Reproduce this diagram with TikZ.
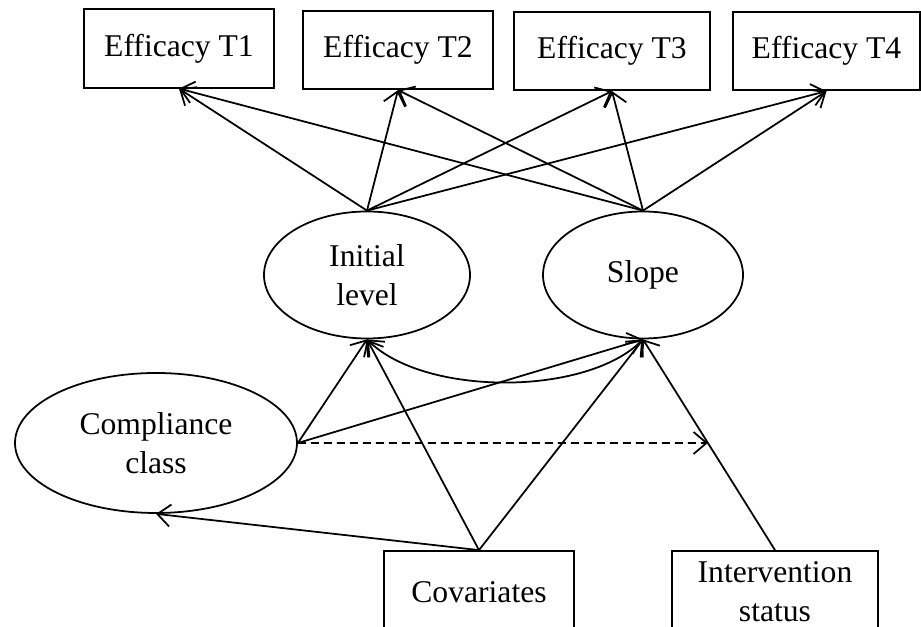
\documentclass[tikz,border=0pt]{standalone}
\usepackage{fontspec}
\setmainfont{Liberation Serif}
\usetikzlibrary{arrows.meta,shapes.geometric,intersections}

\begin{document}
\begin{tikzpicture}[
    font=\fontsize{18}{22}\selectfont,
    line width=1pt,
    >={Straight Barb[length=2.6mm,width=4.4mm]},
    obs/.style={draw, rectangle, minimum width=3.8cm, minimum height=1.57cm, inner sep=2pt},
    latent/.style={draw, ellipse, align=center, inner sep=0pt}
]
    \useasboundingbox (0,0) rectangle (18.42,12.54);

    % Observed measures
    \node[obs] (e1) at (3.58, 11.57) {Efficacy T1};
    \node[obs] (e2) at (7.96, 11.54) {Efficacy T2};
    \node[obs, minimum width=3.92cm] (e3) at (12.24, 11.52) {Efficacy T3};
    \node[obs, minimum width=3.74cm] (e4) at (16.53, 11.52) {Efficacy T4};

    % Growth factors
    \node[latent, minimum width=4.12cm, minimum height=2.54cm] (il) at (7.34, 7.04) {Initial\\level};
    \node[latent, minimum width=4.0cm, minimum height=2.54cm] (sl) at (12.86, 7.04) {Slope};

    % Class and predictors
    \node[latent, minimum width=5.64cm, minimum height=2.8cm] (cc) at (3.12, 3.68) {Compliance\\class};
    \node[obs, minimum height=1.64cm] (cov) at (9.58, 0.70) {Covariates};
    \node[obs, minimum width=4.12cm, minimum height=1.64cm, align=center] (iv) at (15.5, 0.70) {Intervention\\status};

    % Loadings
    \foreach \e in {e1,e2,e3,e4} {
        \draw[->] (il.north) -- (\e.south);
        \draw[->] (sl.north) -- (\e.south);
    }

    % Covariance of growth factors
    \draw[<->] (il.south) to[out=-45, in=-135, looseness=0.75] (sl.south);

    % Regressions
    \draw[->] (cc.east) -- (il.south);
    \draw[->] (cc.east) -- (sl.south);
    \draw[->] (cov.north) -- (il.south);
    \draw[->] (cov.north) -- (sl.south);
    \draw[->] (cov.north) -- (cc.south);
    \draw[->] (iv.north) -- (sl.south);

    % Moderation by class
    \path[name path=ivline] (iv.north) -- (sl.south);
    \path[name path=ccline] (cc.east) -- ++(12,0);
    \path[name intersections={of=ivline and ccline, by=hit}];
    \draw[->, dash pattern=on 1.6mm off 1mm] (cc.east) -- (hit);
\end{tikzpicture}
\end{document}
